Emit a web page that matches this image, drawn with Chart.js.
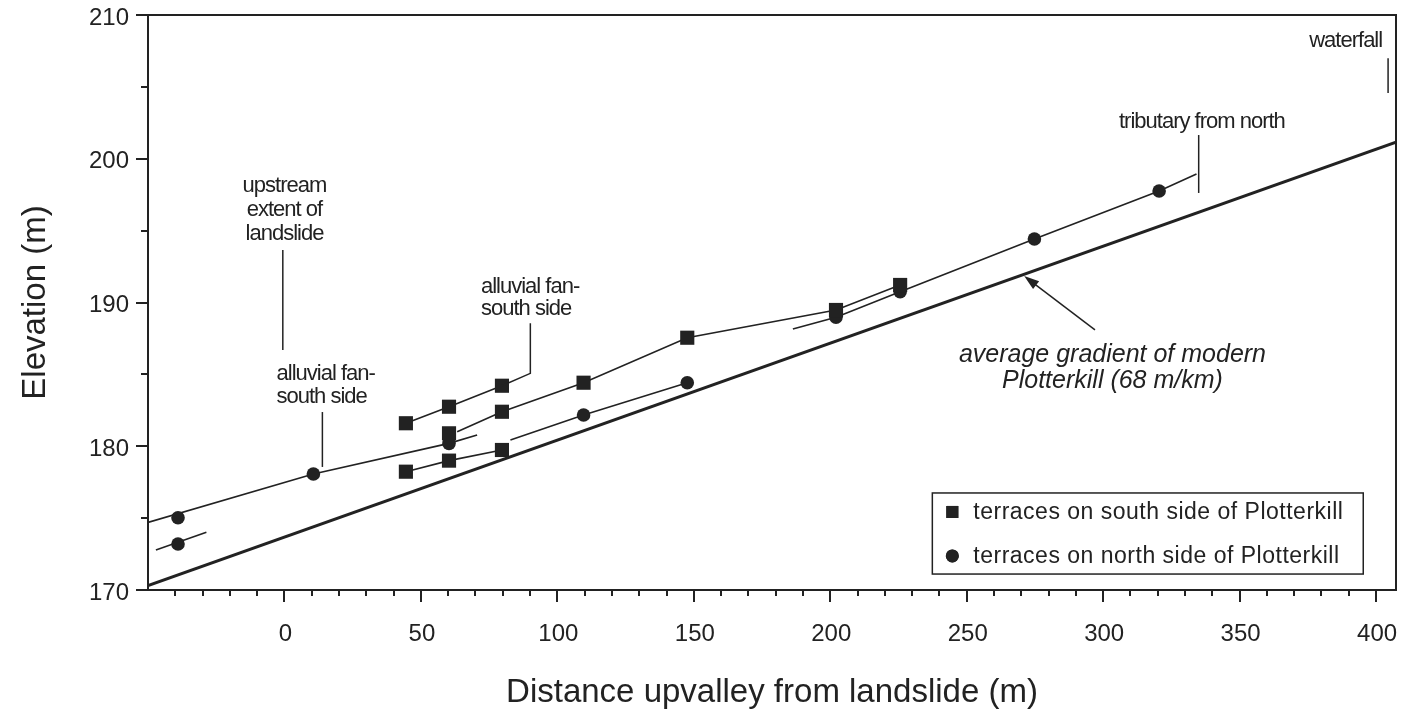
<!DOCTYPE html>
<html>
<head>
<meta charset="utf-8">
<script src="https://cdn.jsdelivr.net/npm/chart.js@4.4.1/dist/chart.umd.min.js"></script>
<style>
  html, body { margin: 0; padding: 0; background: #fff; }
</style>
</head>
<body>
<canvas id="chart" width="1406" height="720"></canvas>
<script>
// Plotterkill terrace profile (x: m upvalley, y: elevation m)

const xTickLabels = [0, 50, 100, 150, 200, 250, 300, 350, 400];
const yTickLabels = [170, 180, 190, 200, 210];

// terraces on south side (squares)
const southTerraces = [
  { x: 44.5, y: 181.6 }, { x: 60.3, y: 182.75 }, { x: 79.7, y: 184.21 },
  { x: 60.3, y: 180.9 }, { x: 79.7, y: 182.4 }, { x: 109.6, y: 184.42 },
  { x: 147.6, y: 187.55 }, { x: 202.1, y: 189.48 }, { x: 225.6, y: 191.22 },
  { x: 44.5, y: 178.23 }, { x: 60.3, y: 179.0 }, { x: 79.7, y: 179.74 }
];

// terraces on north side (circles)
const northTerraces = [
  { x: -39.0, y: 175.03 }, { x: -39.0, y: 173.2 }, { x: 10.6, y: 178.07 },
  { x: 60.3, y: 180.2 }, { x: 109.6, y: 182.17 }, { x: 147.6, y: 184.42 },
  { x: 202.1, y: 188.97 }, { x: 225.6, y: 190.75 }, { x: 274.8, y: 194.42 },
  { x: 320.5, y: 197.76 }
];

// modern stream gradient (68 m/km)
const modernGradient = [{ x: -50, y: 170.3 }, { x: 407.3, y: 201.15 }];

// terrace profile lines
const profileA = [{ x: -50, y: 174.7 }, { x: 10.6, y: 178.07 }, { x: 60.3, y: 180.2 }, { x: 70.6, y: 180.78 }];
const profileB = [{ x: -47.1, y: 172.78 }, { x: -28.6, y: 174.01 }];
const profileC = [{ x: 44.5, y: 181.6 }, { x: 60.3, y: 182.75 }, { x: 79.7, y: 184.21 }];
const profileD = [{ x: 63.3, y: 181.01 }, { x: 79.7, y: 182.4 }, { x: 109.6, y: 184.42 },
                  { x: 147.6, y: 187.55 }, { x: 202.1, y: 189.48 }, { x: 225.6, y: 191.22 }];
const profileE = [{ x: 44.5, y: 178.23 }, { x: 60.3, y: 179.0 }, { x: 79.7, y: 179.74 }];
const profileF = [{ x: 82.8, y: 180.43 }, { x: 109.6, y: 182.17 }, { x: 147.6, y: 184.42 }];
const profileG = [{ x: 186.3, y: 188.16 }, { x: 202.1, y: 188.97 }, { x: 225.6, y: 190.75 },
                  { x: 274.8, y: 194.42 }, { x: 320.5, y: 197.76 }, { x: 334.2, y: 198.94 }];

// annotation leaders (data units)
const leaders = [
  [{ x: -0.6, y: 193.65 }, { x: -0.6, y: 186.7 }],
  [{ x: 13.9, y: 182.38 }, { x: 13.9, y: 178.56 }],
  [{ x: 79.7, y: 184.21 }, { x: 90.1, y: 185.07 }, { x: 90.1, y: 188.55 }],
  [{ x: 335.0, y: 201.65 }, { x: 335.0, y: 197.62 }],
  [{ x: 404.4, y: 207.0 }, { x: 404.4, y: 204.57 }]
];
const gradientArrow = [{ x: 297.0, y: 188.09 }, { x: 271.05, y: 191.84 }];

// annotation texts: x, baseline y (data units), align
const notes = [
  { text: 'upstream', x: 0, y: 197.72, align: 'center' },
  { text: 'extent of', x: 0, y: 196.02, align: 'center' },
  { text: 'landslide', x: 0, y: 194.35, align: 'center' },
  { text: 'alluvial fan-', x: -2.9, y: 184.61, align: 'left' },
  { text: 'south side', x: -2.9, y: 182.99, align: 'left' },
  { text: 'alluvial fan-', x: 72.0, y: 190.66, align: 'left' },
  { text: 'south side', x: 72.0, y: 189.13, align: 'left' },
  { text: 'tributary from north', x: 305.8, y: 202.14, align: 'left' },
  { text: 'waterfall', x: 375.5, y: 207.8, align: 'left' }
];
const gradientNote = [
  { text: 'average gradient of modern', x: 303.4, y: 185.88 },
  { text: 'Plotterkill (68 m/km)', x: 303.4, y: 184.07 }
];

const INK = '#222';
const FONT = "'Liberation Sans', Arial, Helvetica, sans-serif";

function lineSet(data, width) {
  return {
    type: 'scatter', data, showLine: true, borderColor: INK, borderWidth: width,
    pointRadius: 0, pointHoverRadius: 0, fill: false, tension: 0
  };
}

function noPadding(s) {
  s.paddingLeft = 0; s.paddingRight = 0; s.paddingTop = 0; s.paddingBottom = 0;
}

const annotations = {
  id: 'annotations',
  afterDraw(chart) {
    const { ctx, chartArea: a, scales: { x, y } } = chart;
    const px = p => [x.getPixelForValue(p.x), y.getPixelForValue(p.y)];
    ctx.save();

    // frame
    ctx.strokeStyle = INK;
    ctx.lineWidth = 2;
    ctx.strokeRect(a.left, a.top, a.right - a.left, a.bottom - a.top);

    // axis ticks, pointing outward
    ctx.beginPath();
    for (let v = x.min + 10; v <= x.max; v += 10) {
      const tx = Math.round(x.getPixelForValue(v));
      const len = v % 50 === 0 ? 12 : 6;
      ctx.moveTo(tx, a.bottom); ctx.lineTo(tx, a.bottom + len);
    }
    for (let v = y.min + 5; v < y.max; v += 5) {
      const ty = Math.round(y.getPixelForValue(v));
      const len = v % 10 === 0 ? 12 : 7;
      ctx.moveTo(a.left, ty); ctx.lineTo(a.left - len, ty);
    }
    ctx.moveTo(a.left, a.top); ctx.lineTo(a.left - 12, a.top);
    ctx.moveTo(a.left, a.bottom); ctx.lineTo(a.left - 12, a.bottom);
    ctx.stroke();

    // leaders
    ctx.lineWidth = 1.5;
    leaders.forEach(seg => {
      ctx.beginPath();
      seg.forEach((p, i) => { const [qx, qy] = px(p); i ? ctx.lineTo(qx, qy) : ctx.moveTo(qx, qy); });
      ctx.stroke();
    });

    // arrow to gradient line
    const [t0, t1] = px(gradientArrow[0]);
    const [h0, h1] = px(gradientArrow[1]);
    const ang = Math.atan2(h1 - t1, h0 - t0);
    ctx.beginPath();
    ctx.moveTo(t0, t1);
    ctx.lineTo(h0 - 10 * Math.cos(ang), h1 - 10 * Math.sin(ang));
    ctx.stroke();
    ctx.fillStyle = INK;
    ctx.beginPath();
    ctx.moveTo(h0, h1);
    ctx.lineTo(h0 - 15 * Math.cos(ang) + 5 * Math.sin(ang), h1 - 15 * Math.sin(ang) - 5 * Math.cos(ang));
    ctx.lineTo(h0 - 15 * Math.cos(ang) - 5 * Math.sin(ang), h1 - 15 * Math.sin(ang) + 5 * Math.cos(ang));
    ctx.closePath();
    ctx.fill();

    // notes (condensed look)
    ctx.fillStyle = INK;
    ctx.textBaseline = 'alphabetic';
    ctx.font = '22px ' + FONT;
    ctx.letterSpacing = '-1px';
    notes.forEach(n => {
      const [qx, qy] = px(n);
      ctx.textAlign = n.align;
      ctx.fillText(n.text, qx, qy);
    });
    ctx.letterSpacing = '0px';
    ctx.font = 'italic 25px ' + FONT;
    ctx.textAlign = 'center';
    gradientNote.forEach(n => {
      const [qx, qy] = px(n);
      ctx.fillText(n.text, qx, qy);
    });

    // legend box
    const bx0 = x.getPixelForValue(237.4), bx1 = x.getPixelForValue(395.3);
    const by0 = y.getPixelForValue(176.75), by1 = y.getPixelForValue(171.11);
    ctx.fillStyle = '#fff';
    ctx.fillRect(bx0, by0, bx1 - bx0, by1 - by0);
    ctx.lineWidth = 1.5;
    ctx.strokeRect(bx0, by0, bx1 - bx0, by1 - by0);
    ctx.fillStyle = INK;
    ctx.font = '23px ' + FONT;
    ctx.letterSpacing = '0.5px';
    ctx.textAlign = 'left';
    ctx.textBaseline = 'middle';
    const rows = [
      { label: chart.data.datasets[0].label, style: 'rect', cy: by0 + 19 },
      { label: chart.data.datasets[1].label, style: 'circle', cy: by0 + 63 }
    ];
    rows.forEach(r => {
      Chart.helpers.drawPoint(ctx, { pointStyle: r.style, radius: r.style === 'rect' ? 8.5 : 6.5, borderWidth: 0 },
        bx0 + 20, r.cy);
      ctx.fillStyle = INK;
      ctx.fill();
      ctx.fillText(r.label, bx0 + 41, r.cy + 1);
    });
    ctx.restore();
  }
};

new Chart(document.getElementById('chart'), {
  type: 'scatter',
  data: {
    datasets: [
      {
        label: 'terraces on south side of Plotterkill', data: southTerraces,
        pointStyle: 'rect', pointRadius: 10, backgroundColor: INK, borderColor: INK, borderWidth: 0
      },
      {
        label: 'terraces on north side of Plotterkill', data: northTerraces,
        pointStyle: 'circle', pointRadius: 6.8, backgroundColor: INK, borderColor: INK, borderWidth: 0
      },
      lineSet(modernGradient, 3),
      lineSet(profileA, 1.6),
      lineSet(profileB, 1.6),
      lineSet(profileC, 1.6),
      lineSet(profileD, 1.6),
      lineSet(profileE, 1.6),
      lineSet(profileF, 1.6),
      lineSet(profileG, 1.6)
    ]
  },
  options: {
    responsive: false,
    animation: false,
    events: [],
    layout: { padding: { top: 15, right: 6, left: 0, bottom: 0 } },
    plugins: { legend: { display: false }, tooltip: { enabled: false } },
    scales: {
      x: {
        type: 'linear', min: -50, max: 407.3,
        afterBuildTicks: s => { s.ticks = xTickLabels.map(v => ({ value: v })); },
        afterFit: s => { s.height = 130; noPadding(s); },
        grid: { display: false, drawTicks: false },
        border: { display: false },
        ticks: { color: INK, font: { family: FONT, size: 24 }, padding: 30, maxRotation: 0, autoSkip: false, labelOffset: 1 },
        title: {
          display: true, text: 'Distance upvalley from landslide (m)', color: INK,
          font: { family: FONT, size: 33 }, padding: { top: 0, bottom: 7 }
        }
      },
      y: {
        type: 'linear', min: 170, max: 210,
        afterBuildTicks: s => { s.ticks = yTickLabels.map(v => ({ value: v })); },
        afterFit: s => { s.width = 148; noPadding(s); },
        grid: { display: false, drawTicks: false },
        border: { display: false },
        ticks: { color: INK, font: { family: FONT, size: 24 }, padding: 19, autoSkip: false, labelOffset: 3 },
        title: {
          display: true, text: 'Elevation (m)', color: INK,
          font: { family: FONT, size: 33 }, padding: { top: 16, bottom: 0 }
        }
      }
    }
  },
  plugins: [annotations]
});
</script>
</body>
</html>
